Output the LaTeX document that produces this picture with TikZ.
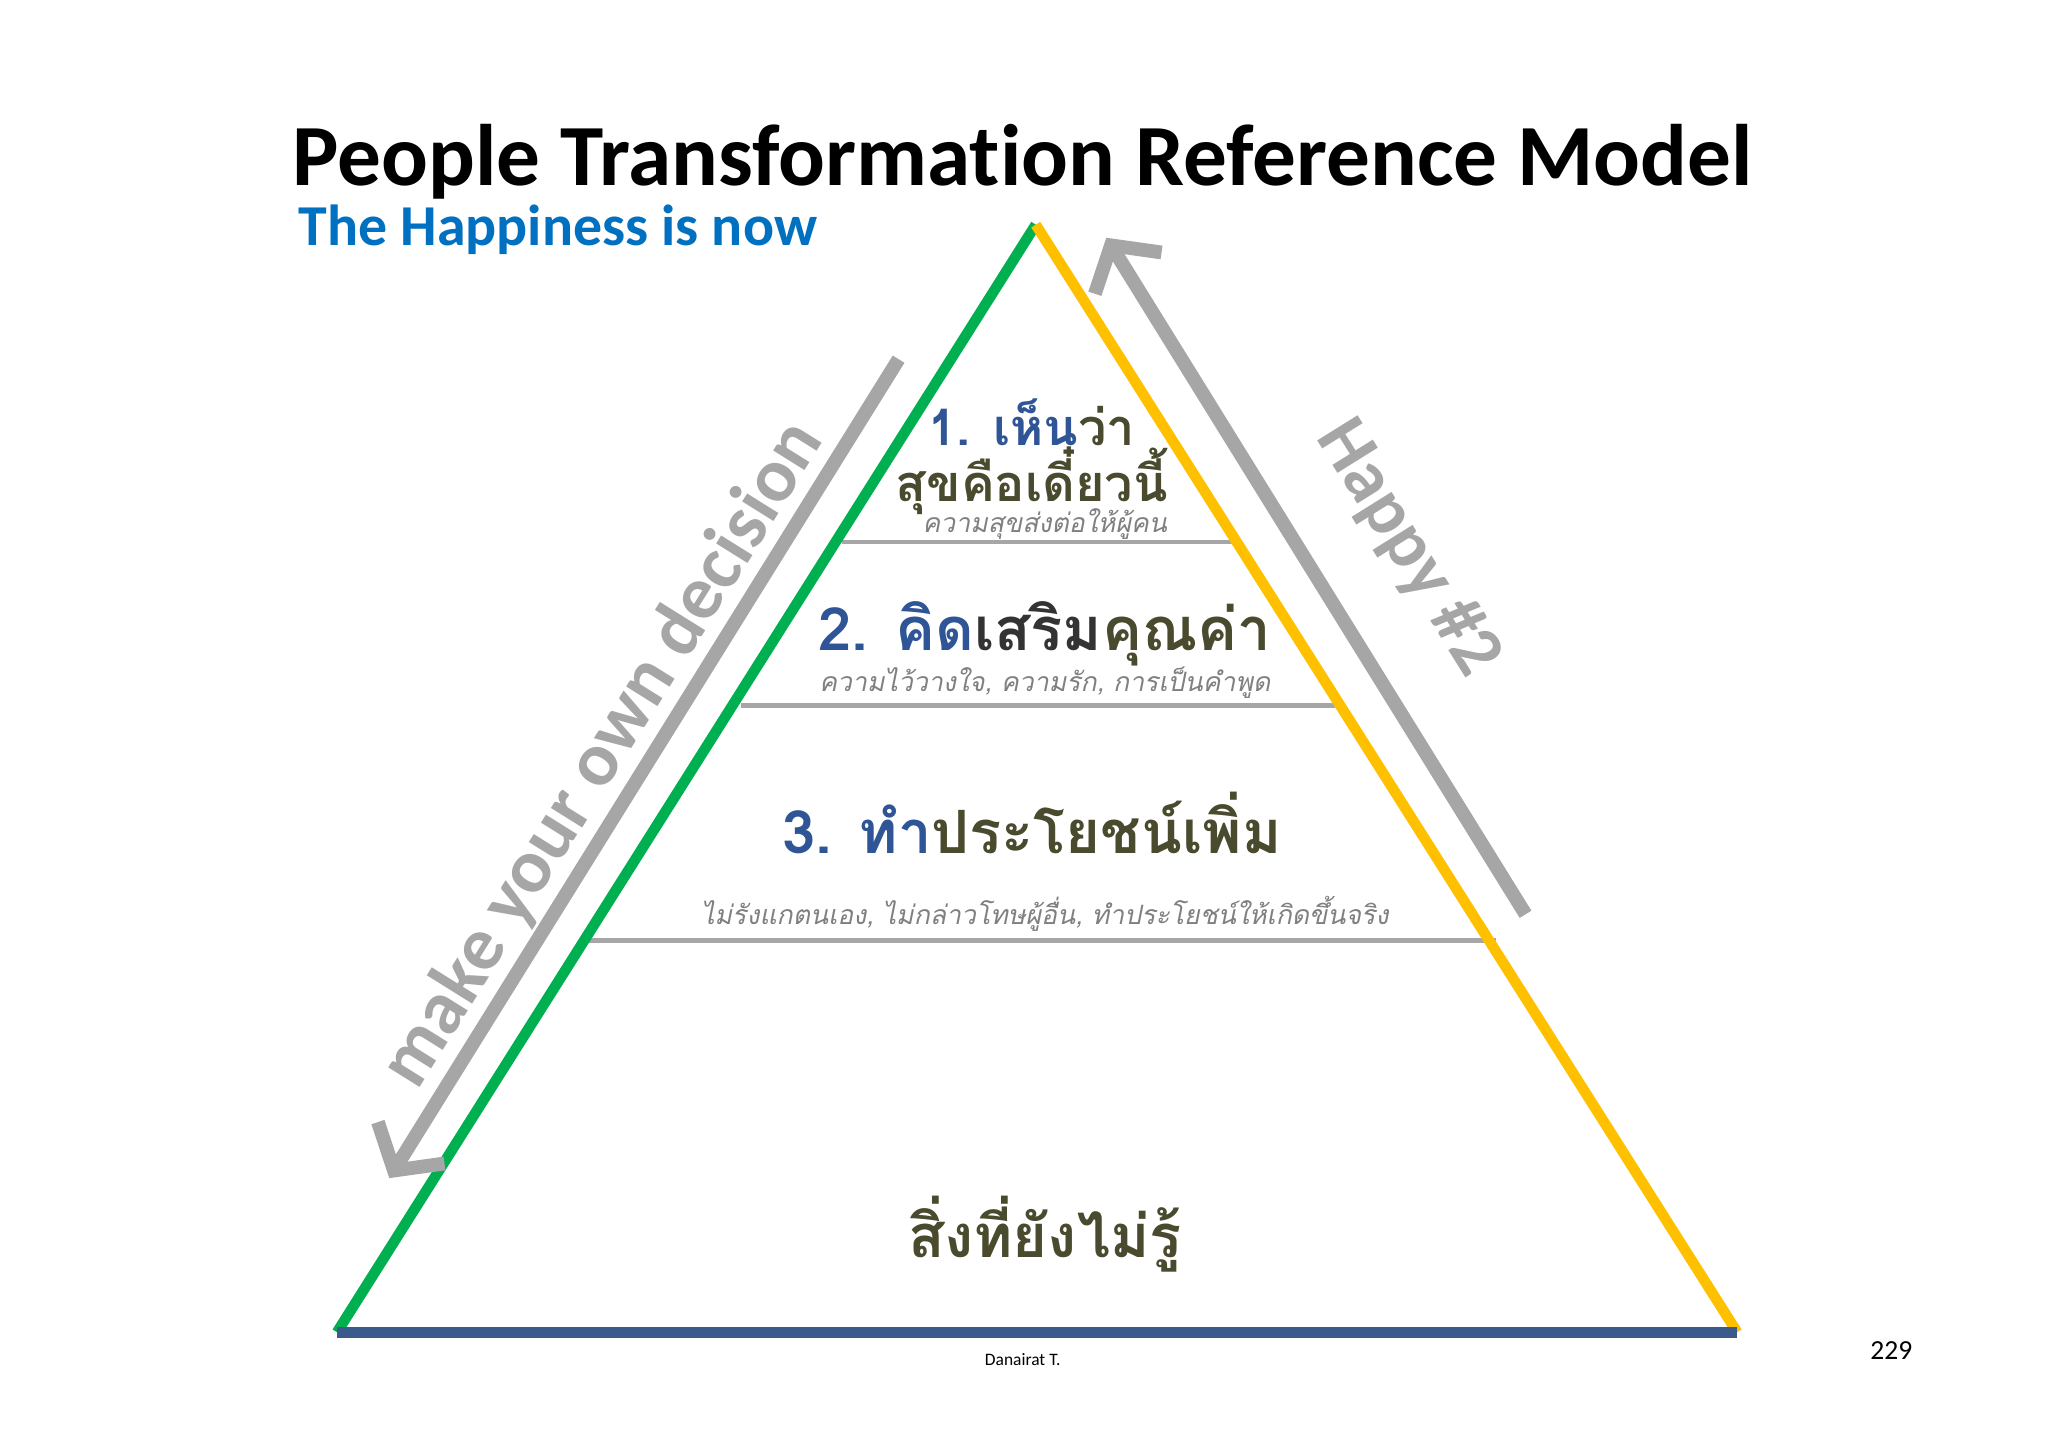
\documentclass[tikz,border=0pt]{standalone}
\usepackage{fontspec}
\setmainfont[Ligatures=NoCommon]{Carlito}
\newfontfamily\thai[Script=Thai]{Loma}
\newfontfamily\thaiit[Script=Thai,FakeSlant=0.2]{Loma}
\usetikzlibrary{arrows.meta}
\definecolor{tblue}{HTML}{2F5597}
\definecolor{olive}{HTML}{4A4A2E}
\definecolor{gry}{HTML}{A6A6A6}
\definecolor{grn}{HTML}{00B050}
\definecolor{yel}{HTML}{FFC000}
\definecolor{bas}{HTML}{3A5A8C}
\definecolor{subblue}{HTML}{0070C0}
\begin{document}
\begin{tikzpicture}[x=0.01cm,y=-0.01cm,
  side/.style={line width=2.3pt},
  tier/.style={draw=gry,line width=1pt},
  garrow/.style={gry,line width=3pt,-{Straight Barb[length=0.25cm,width=0.6cm]}},
  big/.style={font=\thai\bfseries\fontsize{11}{13}\selectfont,text=olive,inner sep=0},
  small/.style={font=\thaiit\fontsize{5.8}{7}\selectfont,text=gray,inner sep=0}]
\useasboundingbox[fill=white] (0,0) rectangle (1568,1108);
\coordinate (A) at (793,172);
\coordinate (L) at (258,1020);
\coordinate (R) at (1330,1020);
\draw[tier] (645,415) coordinate (l1a) -- (945,415) coordinate (l1b);
\draw[tier] (567,540) coordinate (l2a) -- (1022,540) coordinate (l2b);
\draw[tier] (450,720) coordinate (l3a) -- (1145,720) coordinate (l3b);
\draw[side,grn] (L) -- (A);
\draw[side,yel] (A) -- (R);
\draw[side,bas] (L) -- (R);
\coordinate (g1) at (688,275); \coordinate (g2) at (298,902);
\draw[garrow] (g1) -- (g2);
\coordinate (h1) at (1168,700); \coordinate (h2) at (847,182);
\draw[garrow] (h1) -- (h2);
\node[rotate=58,font=\bfseries\fontsize{16.6}{18}\selectfont,text=gry] (md) at (462,578) {make your own decision};
\node[rotate=-58,font=\bfseries\fontsize{16}{18}\selectfont,text=gry] (hp) at (1078,420) {Happy \#2};
\node[font=\bfseries\fontsize{19}{22}\selectfont] (t) at (783,124) {People Transformation Reference Model};
\node[font=\bfseries\fontsize{12.6}{14}\selectfont,anchor=west,text=subblue,inner sep=0] (st) at (228,176) {The Happiness is now};
\node[big] (n1) at (790,323) {{\color{tblue}1. เห็น}ว่า};
\node[big] (n1b) at (790,368) {สุขคือเดี๋ยวนี้};
\node[small] (s1) at (800,401) {ความสุขส่งต่อให้ผู้คน};
\node[big,font=\thai\bfseries\fontsize{13}{15}\selectfont] (n2) at (800,485) {{\color{tblue}2. คิด}{\color{black!80}เสริม}คุณค่า};
\node[small] (s2) at (800,523) {ความไว้วางใจ, ความรัก, การเป็นคำพูด};
\node[big,font=\thai\bfseries\fontsize{13}{15}\selectfont] (n3) at (790,630) {{\color{tblue}3. ทำ}ประโยชน์เพิ่ม};
\node[small] (s3) at (800,700) {ไม่รังแกตนเอง, ไม่กล่าวโทษผู้อื่น, ทำประโยชน์ให้เกิดขึ้นจริง};
\node[big,font=\thai\bfseries\fontsize{13}{15}\selectfont] (n4) at (800,945) {สิ่งที่ยังไม่รู้};
\node[font=\fontsize{3.8}{4}\selectfont] (d) at (783,1041) {Danairat T.};
\node[font=\fontsize{6}{7}\selectfont] (p) at (1448,1034) {229};
\end{tikzpicture}
\end{document}
